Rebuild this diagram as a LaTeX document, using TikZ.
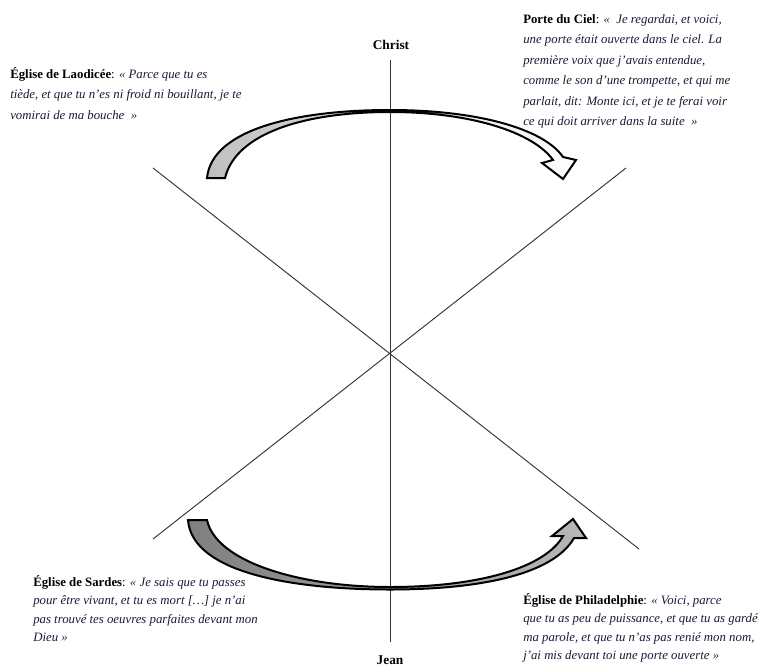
\documentclass[tikz,border=0pt]{standalone}
\usepackage{fontspec}
\setmainfont{Liberation Serif}
\definecolor{quotecol}{RGB}{25,25,55}
\begin{document}
\begin{tikzpicture}[x=0.75pt,y=-0.75pt,
  axis/.style={draw=black!80, line width=0.7pt},
  arrowshape/.style={draw=black, line width=1.5pt, line join=miter},
  lbl/.style={inner sep=0pt, align=left, anchor=north west, text=quotecol},
  toplbl/.style={lbl, font=\fontsize{9.6}{15.4}\selectfont},
  botlbl/.style={lbl, font=\fontsize{9.6}{13.9}\selectfont},
  pole/.style={inner sep=0pt, font=\fontsize{10}{12}\selectfont\bfseries}]
\useasboundingbox (0,0) rectangle (759,667);
\node[pole] (christ) at (391,45) {Christ};
\node[pole] (jean) at (390,660) {Jean};
\coordinate (vtop) at (390,60);
\coordinate (vbot) at (390,642);
\coordinate (ul) at (153,168);
\coordinate (ur) at (626,168);
\coordinate (ll) at (153,539);
\coordinate (lr) at (639,549);
\draw[axis] (vtop) -- (vbot);
\draw[axis] (ul) -- (lr);
\draw[axis] (ur) -- (ll);
% top curved arrow
\path[arrowshape, left color=black!25, right color=white]
 (207,178) .. controls (212,128) and (300,110) .. (390,110)
 .. controls (475,110) and (543,128) .. (563,157)
 -- (576,160) -- (563,179) -- (542,163) -- (553,160)
 .. controls (533,132) and (470,112) .. (390,112)
 .. controls (305,112) and (236,133) .. (225,178) -- cycle;
% bottom curved arrow
\path[arrowshape, left color=black!50, right color=black!28]
 (188,520) -- (207,520)
 .. controls (216,562) and (300,587) .. (390,587)
 .. controls (478,587) and (545,568) .. (563,536)
 -- (552,536) -- (573,519) -- (586,538) -- (574,538)
 .. controls (553,575) and (478,589.5) .. (390,589.5)
 .. controls (290,589.5) and (192,572) .. (188,520) -- cycle;
% texts
\node[toplbl] (laodicee) at (10,67) {\textcolor{black}{\textbf{Église de Laodicée}:} \textit{« Parce que tu es}\\
\textit{tiède, et que tu n'es ni froid ni bouillant, je te}\\
\textit{vomirai de ma bouche~ »}};
\node[toplbl] (ciel) at (523,14) {\textcolor{black}{\textbf{Porte du Ciel}:} \textit{«~ Je regardai, et voici,}\\
\textit{une porte était ouverte dans le ciel. La}\\
\textit{première voix que j'avais entendue,}\\
\textit{comme le son d'une trompette, et qui me}\\
\textit{parlait, dit: Monte ici, et je te ferai voir}\\
\textit{ce qui doit arriver dans la suite~ »}};
\node[botlbl] (sardes) at (33,575) {\textcolor{black}{\textbf{Église de Sardes}:} \textit{« Je sais que tu passes}\\
\textit{pour être vivant, et tu es mort […] je n'ai}\\
\textit{pas trouvé tes oeuvres parfaites devant mon}\\
\textit{Dieu »}};
\node[botlbl] (philadelphie) at (523,593) {\textcolor{black}{\textbf{Église de Philadelphie}:} \textit{« Voici, parce}\\
\textit{que tu as peu de puissance, et que tu as gardé}\\
\textit{ma parole, et que tu n'as pas renié mon nom,}\\
\textit{j'ai mis devant toi une porte ouverte »}};
\end{tikzpicture}
\end{document}
